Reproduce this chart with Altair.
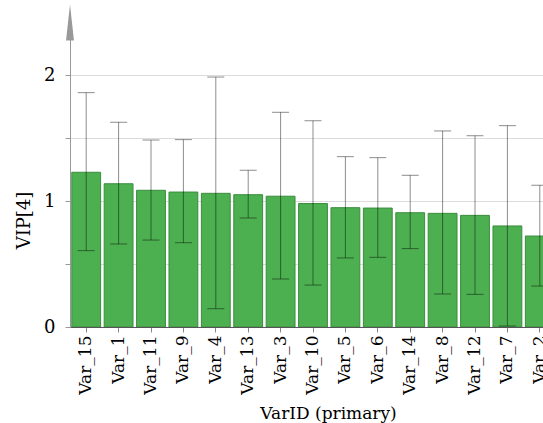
import altair as alt
import pandas as pd

var_ids = ["Var_15", "Var_1", "Var_11", "Var_9", "Var_4", "Var_13", "Var_3", "Var_10",
           "Var_5", "Var_6", "Var_14", "Var_8", "Var_12", "Var_7", "Var_2"]
vip = [1.228, 1.137, 1.085, 1.071, 1.061, 1.050, 1.038, 0.980,
       0.947, 0.944, 0.907, 0.902, 0.886, 0.802, 0.722]
vip_hi = [1.860, 1.625, 1.484, 1.487, 1.984, 1.244, 1.704, 1.637,
          1.352, 1.344, 1.204, 1.556, 1.518, 1.598, 1.125]
vip_lo = [0.606, 0.659, 0.690, 0.669, 0.145, 0.865, 0.381, 0.333,
          0.548, 0.553, 0.622, 0.262, 0.259, 0.008, 0.325]
y_ticks = [0, 0.25, 0.5, 0.75, 1, 1.25, 1.5, 1.75, 2, 2.25]

df = pd.DataFrame({"VarID": var_ids, "VIP": vip, "hi": vip_hi, "lo": vip_lo})

FONT = "DejaVu Serif"

xscale = alt.Scale(domain=var_ids, range=[0, 486], paddingInner=0.11, paddingOuter=0.055)
yscale = alt.Scale(domain=[0, 2.5], nice=False, zero=True)

x_enc = alt.X("VarID:N", scale=xscale, sort=var_ids,
              axis=alt.Axis(title="VarID (primary)", labelAngle=-90,
                            labelFontSize=17, labelColor="black", labelPadding=3,
                            tickSize=5, tickColor="#888", domainColor="#555",
                            titleFontSize=17, titleFontWeight="normal",
                            titleColor="black", titleX=258, titleY=91,
                            titleBaseline="alphabetic", titleAlign="center"))

bars = alt.Chart(df).mark_bar(color="#4caf50", stroke="#3b8d3e", strokeWidth=1, clip=True).encode(
    x=x_enc,
    y=alt.Y("VIP:Q", scale=yscale,
            axis=alt.Axis(title="VIP[4]", values=y_ticks,
                          labelExpr="datum.value % 1 == 0 ? format(datum.value, 'd') : ''",
                          labelFontSize=18, labelColor="black",
                          labelPadding=10, tickSize=5, tickColor="#999",
                          domainColor="#999", grid=True, gridColor="#dcdcdc",
                          gridOpacity={"condition": {"test": "datum.value % 0.5 == 0", "value": 1}, "value": 0},
                          titleFontSize=18, titleFontWeight="normal",
                          titleColor="black", titleX=-41, titleY=208,
                          titleBaseline="alphabetic", titleAngle=-90, titleAlign="center")),
)

err = alt.Chart(df).mark_rule(color="black", opacity=0.45, strokeWidth=1, clip=True).encode(
    x=alt.X("VarID:N", scale=xscale, sort=var_ids),
    y=alt.Y("lo:Q", scale=yscale),
    y2="hi:Q",
)
cap_hi = alt.Chart(df).mark_tick(color="black", opacity=0.45, thickness=1, size=17, clip=True).encode(
    x=alt.X("VarID:N", scale=xscale, sort=var_ids),
    y=alt.Y("hi:Q", scale=yscale),
)
cap_lo = alt.Chart(df).mark_tick(color="black", opacity=0.45, thickness=1, size=17, clip=True).encode(
    x=alt.X("VarID:N", scale=xscale, sort=var_ids),
    y=alt.Y("lo:Q", scale=yscale),
)

arrow = alt.Chart(pd.DataFrame({"a": [0]})).mark_point(
    shape="M-0.22,1 L0,-1 L0.22,1 Z", filled=True, color="#999", opacity=1, size=1300,
    strokeWidth=0
).encode(x=alt.value(0), y=alt.value(10.5))

chart = alt.layer(bars, err, cap_hi, cap_lo, arrow).properties(
    width=473, height=315,
    autosize=alt.AutoSizeParams(type="none"),
    padding={"left": 70, "top": 12, "right": 0, "bottom": 96},
).configure(
    background="white", font=FONT
).configure_view(
    stroke=None, strokeWidth=0
).configure_axis(
    labelFont=FONT, titleFont=FONT
)

chart.save("out.html", embed_options={"renderer": "svg", "actions": False})
